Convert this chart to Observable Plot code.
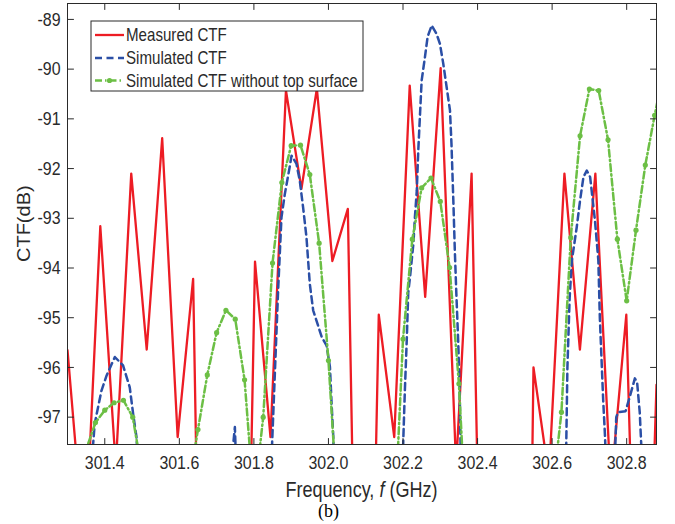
<!DOCTYPE html>
<html><head><meta charset="utf-8">
<script src="https://cdn.jsdelivr.net/npm/d3@7"></script>
<script src="https://cdn.jsdelivr.net/npm/@observablehq/plot@0.6"></script>
<style>
body{margin:0;background:#fff;}
#chart{width:675px;height:503px;}
#cap{position:relative;width:675px;height:21px;font-family:'Liberation Serif','Times New Roman',serif;font-size:18px;line-height:20px;}
#cap span{position:absolute;left:318px;top:-2px;}
</style></head><body>
<div id="chart"></div>
<div id="cap"><span>(b)</span></div>
<script>
// ---- data ----
const seriesNames = ["Measured CTF", "Simulated CTF", "Simulated CTF without top surface"];
const xTicks = [301.4, 301.6, 301.8, 302.0, 302.2, 302.4, 302.6, 302.8];
const yTicks = [-97, -96, -95, -94, -93, -92, -91, -90, -89];

const measuredFreq = [301.300, 301.3465, 301.388, 301.4295, 301.471, 301.5125, 301.554, 301.5955, 301.637, 301.6785, 301.720, 301.7615, 301.803, 301.8445, 301.886, 301.9275, 301.969, 302.0105, 302.052, 302.0935, 302.135, 302.1765, 302.218, 302.2595, 302.301, 302.3425, 302.384, 302.4255, 302.467, 302.5085, 302.550, 302.5915, 302.633, 302.6745, 302.716, 302.7575, 302.799, 302.8405, 302.880];
const measuredCTF = [-95.65, -99.8, -93.16, -98.0, -92.1, -95.64, -91.39, -97.4, -94.22, -112, -115, -110, -93.87, -97.4, -90.43, -92.41, -90.39, -93.86, -92.81, -110, -94.94, -97.4, -90.33, -94.58, -89.98, -98.0, -92.1, -108, -112, -120, -96.0, -98.2, -92.1, -95.64, -92.1, -98.4, -94.94, -106, -96.35];

const simFreq = [301.355, 301.365, 301.373, 301.391, 301.405, 301.427, 301.449, 301.467, 301.476, 301.485, 301.495, 301.600,
  301.735, 301.749, 301.757, 301.800,
  301.843, 301.849, 301.865, 301.874, 301.883, 301.896, 301.901, 301.914, 301.923, 301.932, 301.941, 301.950, 301.959, 301.982, 301.995, 302.004, 302.008, 302.013, 302.018, 302.100,
  302.196, 302.201, 302.205, 302.210, 302.214, 302.219, 302.228, 302.232, 302.237, 302.241, 302.250, 302.259, 302.266, 302.277, 302.290, 302.299, 302.308, 302.317, 302.326, 302.330, 302.335, 302.339, 302.343, 302.348, 302.352, 302.354, 302.358, 302.500,
  302.636, 302.641, 302.647, 302.653, 302.666, 302.675, 302.684, 302.693, 302.702, 302.706, 302.715, 302.724, 302.728, 302.737, 302.742, 302.747,
  302.765, 302.772, 302.777, 302.797, 302.808, 302.822, 302.828, 302.835, 302.845, 302.880];
const simCTF = [-99, -97.9, -97.13, -96.47, -96.16, -95.79, -95.96, -96.4, -96.93, -97.4, -98.6, -102,
  -98.3, -97.2, -99, -102,
  -99, -97.5, -94.45, -92.98, -92.51, -91.97, -91.74, -91.9, -92.24, -92.78, -93.38, -94.32, -94.85, -95.39, -95.56, -95.99, -96.66, -97.4, -99, -102,
  -99, -97.4, -96.46, -95.46, -94.5, -94.17, -93.5, -92.97, -92.44, -91.63, -90.23, -89.75, -89.35, -89.12, -89.29, -89.49, -89.89, -90.36, -90.83, -91.5, -92.64, -93.65, -94.5, -95.46, -96.46, -97.4, -99, -102,
  -98.5, -96.0, -94.6, -93.85, -93.18, -92.64, -92.17, -92.04, -92.17, -92.44, -93.05, -93.85, -95.0, -96.66, -97.4, -98.6,
  -98.6, -97.0, -96.9, -96.88, -96.6, -96.22, -96.3, -96.9, -98.5, -101];

const noTopFreq = [301.300, 301.325, 301.350, 301.375, 301.400, 301.425, 301.450, 301.475, 301.500, 301.525, 301.550, 301.575, 301.600, 301.625, 301.650, 301.675, 301.700, 301.725, 301.750, 301.775, 301.800, 301.825, 301.850, 301.875, 301.900, 301.925, 301.950, 301.975, 302.000, 302.025, 302.050, 302.075, 302.100, 302.125, 302.150, 302.175, 302.200, 302.225, 302.250, 302.275, 302.300, 302.325, 302.350, 302.375, 302.400, 302.425, 302.450, 302.475, 302.500, 302.525, 302.550, 302.575, 302.600, 302.625, 302.650, 302.675, 302.700, 302.725, 302.750, 302.775, 302.800, 302.825, 302.850, 302.875, 302.900];
const noTopCTF = [-101, -99.5, -97.65, -97.11, -96.86, -96.71, -96.66, -97.0, -98.1, -99.5, -100.5, -101, -100, -98.4, -97.25, -96.15, -95.3, -94.85, -95.03, -96.25, -98.7, -97.0, -93.9, -92.28, -91.54, -91.53, -92.12, -93.5, -95.86, -98.9, -100.5, -101, -101.5, -101, -100.5, -99.5, -95.43, -93.42, -92.39, -92.19, -92.66, -93.99, -96.33, -100, -101, -101.5, -102, -102, -101.5, -101, -100.5, -99.5, -98.6, -96.9, -93.39, -91.34, -90.4, -90.43, -91.42, -93.42, -94.66, -93.24, -91.93, -90.93, -90.0];

// ---- build tables ----
const measured = measuredFreq.map((f, i) => ({f, v: measuredCTF[i]}));
const simulated = simFreq.map((f, i) => ({f, v: simCTF[i]}));
const noTop = noTopFreq.map((f, i) => ({f, v: noTopCTF[i]}));

const RED = "#ed1c24", BLUE = "#2b4fa6", GREEN = "#6cbf45", AX = "#2a2a2a";
const SANS = "'Liberation Sans',Arial,Helvetica,sans-serif";
const SQ = 0.84; // horizontal squeeze of the reference's lettering
const tickShape = {draw(ctx, l) { ctx.moveTo(0, 0); ctx.lineTo(0, -l); }};
const tk = {length: 6, anchor: "start", shape: tickShape, stroke: AX, strokeWidth: 1};

const chart = Plot.plot({
  width: 675, height: 503,
  marginLeft: 67, marginRight: 19, marginTop: 3, marginBottom: 59,
  x: {domain: [301.3, 302.88]},
  y: {domain: [-97.55, -88.68]},
  style: {fontFamily: SANS, background: "white", color: AX},
  marks: [
    Plot.line(measured, {x: "f", y: "v", stroke: RED, strokeWidth: 2.3, clip: true}),
    Plot.line(simulated, {x: "f", y: "v", stroke: BLUE, strokeWidth: 2.5, strokeDasharray: "7,4.5", clip: true}),
    Plot.line(noTop, {x: "f", y: "v", stroke: GREEN, strokeWidth: 2.5, strokeDasharray: "7,3,1.5,3", clip: true}),
    Plot.dot(noTop, {x: "f", y: "v", r: 2.6, fill: GREEN, clip: true}),
    Plot.frame({stroke: AX, strokeWidth: 1}),
    Plot.vector(xTicks, {x: d => d, frameAnchor: "bottom", rotate: 0, ...tk}),
    Plot.vector(xTicks, {x: d => d, frameAnchor: "top", rotate: 180, ...tk}),
    Plot.vector(yTicks, {y: d => d, frameAnchor: "left", rotate: 90, ...tk}),
    Plot.vector(yTicks, {y: d => d, frameAnchor: "right", rotate: -90, ...tk}),
    Plot.axisX({ticks: xTicks, tickSize: 0, tickPadding: 11, tickFormat: d => d.toFixed(1), fontSize: 19, label: null}),
    Plot.axisY({ticks: yTicks, tickSize: 0, tickPadding: 7, tickFormat: d => String(d), fontSize: 19, label: null})
  ]
});
document.getElementById("chart").appendChild(chart);

const svg = d3.select(chart);
// squeeze tick labels horizontally like the reference
svg.selectAll('g[aria-label="x-axis tick label"] text, g[aria-label="y-axis tick label"] text').each(function() {
  const t = this.getAttribute("transform") || "";
  this.setAttribute("transform", t + ` scale(${SQ},1)`);
});

// ---- titles & legend ----
const xl = svg.append("text").attr("transform", `translate(361.5,497) scale(${SQ},1)`).attr("text-anchor", "middle")
  .attr("font-family", SANS).attr("font-size", 21.5).attr("fill", AX);
xl.append("tspan").text("Frequency, ");
xl.append("tspan").attr("font-style", "italic").text("f");
xl.append("tspan").text(" (GHz)");
svg.append("text").attr("transform", "translate(30,223.7) rotate(-90) scale(1,0.9)").attr("text-anchor", "middle")
  .attr("font-family", SANS).attr("font-size", 20).attr("fill", AX).text("CTF(dB)");

const lg = svg.append("g");
lg.append("rect").attr("x", 91).attr("y", 21).attr("width", 272).attr("height", 70)
  .attr("fill", "white").attr("stroke", AX).attr("stroke-width", 1);
const styles = [
  {stroke: RED, dash: null, w: 2.3, dot: false},
  {stroke: BLUE, dash: "7,4.5", w: 2.5, dot: false},
  {stroke: GREEN, dash: "7,3,1.5,3", w: 2.5, dot: true}
];
const rowY = [35, 58, 80.5];
seriesNames.forEach((name, i) => {
  const s = styles[i], y = rowY[i];
  lg.append("line").attr("x1", 95).attr("x2", 124).attr("y1", y).attr("y2", y)
    .attr("stroke", s.stroke).attr("stroke-width", s.w).attr("stroke-dasharray", s.dash);
  if (s.dot) lg.append("circle").attr("cx", 109.5).attr("cy", y).attr("r", 2.6).attr("fill", s.stroke);
  lg.append("text").attr("transform", `translate(126,${y}) scale(${SQ},1)`).attr("dy", "0.35em")
    .attr("text-anchor", "start").attr("font-family", SANS)
    .attr("font-size", 18).attr("fill", AX).text(name);
});
</script></body></html>
